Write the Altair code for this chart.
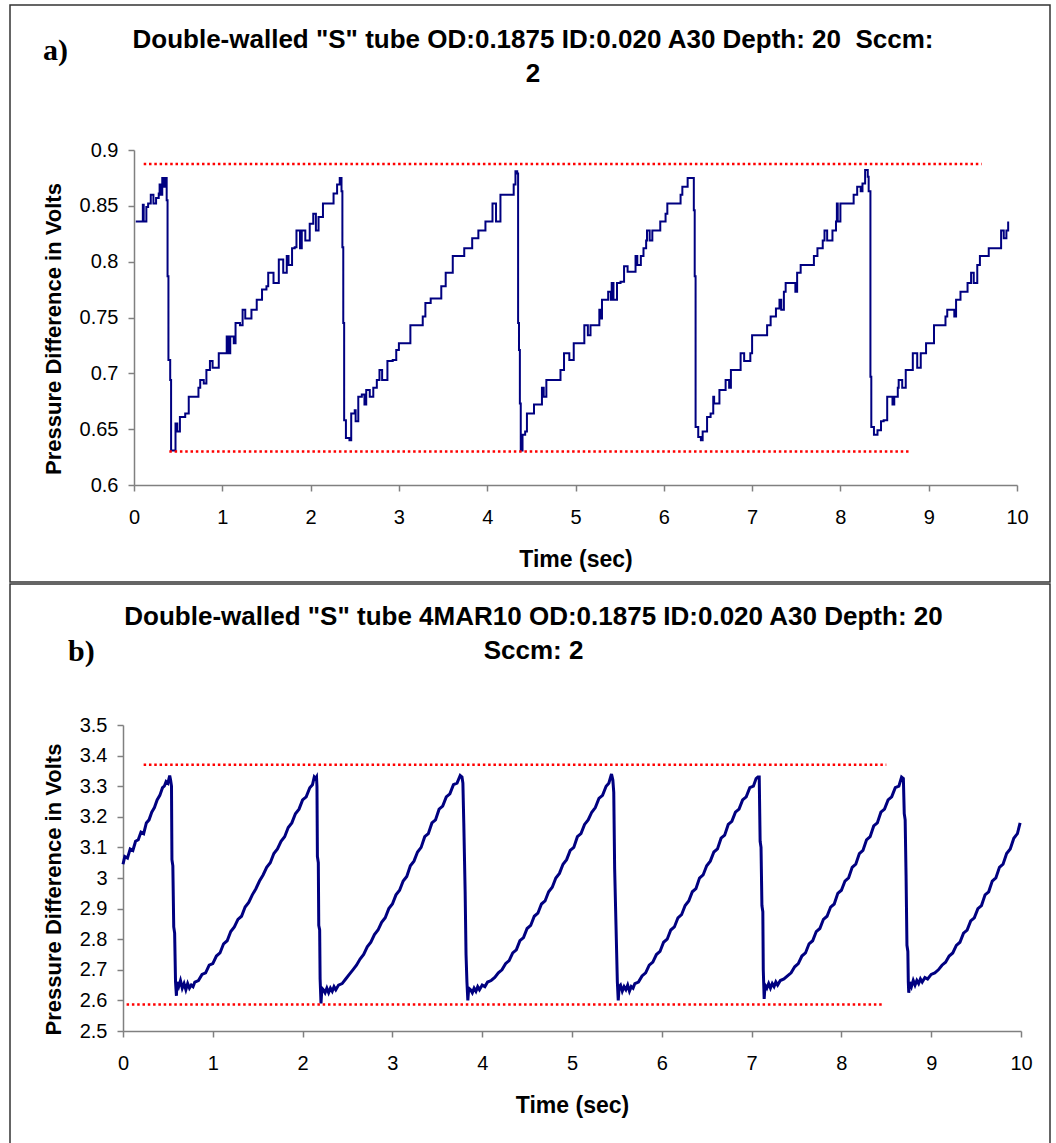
import altair as alt
import pandas as pd

SANS = "Liberation Sans"
SERIF = "Liberation Serif"

title_a = ['Double-walled "S" tube OD:0.1875 ID:0.020 A30 Depth: 20\u00a0 Sccm:', '2']
title_b = ['Double-walled "S" tube 4MAR10 OD:0.1875 ID:0.020 A30 Depth: 20', 'Sccm: 2']
x_title = "Time (sec)"
y_title = "Pressure Difference in Volts"
x_ticks = [0, 1, 2, 3, 4, 5, 6, 7, 8, 9, 10]
y_ticks_a = [0.6, 0.65, 0.7, 0.75, 0.8, 0.85, 0.9]
y_ticks_b = [2.5, 2.6, 2.7, 2.8, 2.9, 3.0, 3.1, 3.2, 3.3, 3.4, 3.5]

# panel a trace: (time s, volts)
trace_a = [
    (0.02, 0.836), (0.07, 0.836), (0.10, 0.851), (0.11, 0.836), (0.14, 0.849), (0.16, 0.852),
    (0.19, 0.860), (0.22, 0.852), (0.25, 0.857), (0.28, 0.861), (0.29, 0.869), (0.30, 0.860),
    (0.32, 0.875), (0.34, 0.867), (0.36, 0.875), (0.37, 0.855), (0.38, 0.787), (0.39, 0.712),
    (0.41, 0.694), (0.42, 0.631), (0.44, 0.631), (0.47, 0.655), (0.49, 0.648), (0.52, 0.661),
    (0.58, 0.664), (0.62, 0.679), (0.69, 0.679), (0.73, 0.687), (0.75, 0.694), (0.79, 0.691),
    (0.82, 0.703), (0.86, 0.711), (0.89, 0.705), (0.96, 0.718), (1.00, 0.718), (1.05, 0.733),
    (1.07, 0.718), (1.09, 0.733), (1.13, 0.727), (1.15, 0.745), (1.20, 0.743), (1.23, 0.757),
    (1.26, 0.749), (1.33, 0.757), (1.39, 0.766), (1.45, 0.775), (1.50, 0.778), (1.52, 0.790),
    (1.58, 0.781), (1.64, 0.802), (1.69, 0.790), (1.73, 0.805), (1.75, 0.797), (1.79, 0.812),
    (1.82, 0.813), (1.84, 0.828), (1.88, 0.812), (1.90, 0.828), (1.94, 0.819), (1.99, 0.834),
    (2.03, 0.843), (2.06, 0.828), (2.09, 0.840), (2.14, 0.852), (2.22, 0.852), (2.26, 0.861),
    (2.30, 0.869), (2.33, 0.875), (2.35, 0.863), (2.36, 0.813), (2.37, 0.745), (2.38, 0.658),
    (2.40, 0.642), (2.44, 0.640), (2.46, 0.664), (2.50, 0.667), (2.51, 0.657), (2.54, 0.679),
    (2.58, 0.681), (2.61, 0.672), (2.63, 0.685), (2.67, 0.679), (2.71, 0.687), (2.75, 0.694),
    (2.78, 0.703), (2.81, 0.694), (2.87, 0.711), (2.93, 0.712), (2.97, 0.721), (3.00, 0.727),
    (3.08, 0.727), (3.13, 0.743), (3.23, 0.743), (3.27, 0.751), (3.30, 0.763), (3.36, 0.767),
    (3.44, 0.767), (3.48, 0.778), (3.53, 0.790), (3.61, 0.805), (3.72, 0.805), (3.74, 0.812),
    (3.83, 0.821), (3.90, 0.828), (3.97, 0.828), (3.98, 0.836), (4.04, 0.836), (4.06, 0.852),
    (4.10, 0.836), (4.15, 0.860), (4.28, 0.860), (4.30, 0.869), (4.32, 0.881), (4.34, 0.879),
    (4.35, 0.745), (4.36, 0.721), (4.37, 0.673), (4.38, 0.631), (4.40, 0.645), (4.43, 0.648),
    (4.45, 0.664), (4.50, 0.664), (4.53, 0.672), (4.61, 0.672), (4.62, 0.687), (4.64, 0.679),
    (4.67, 0.694), (4.76, 0.694), (4.83, 0.703), (4.87, 0.718), (4.93, 0.712), (4.96, 0.712),
    (4.98, 0.727), (5.06, 0.727), (5.10, 0.743), (5.14, 0.734), (5.17, 0.743), (5.22, 0.743),
    (5.27, 0.757), (5.29, 0.749), (5.30, 0.766), (5.34, 0.766), (5.37, 0.773), (5.40, 0.766),
    (5.41, 0.781), (5.43, 0.766), (5.47, 0.781), (5.51, 0.782), (5.55, 0.796), (5.59, 0.791),
    (5.68, 0.805), (5.70, 0.797), (5.74, 0.805), (5.77, 0.812), (5.80, 0.819), (5.81, 0.828),
    (5.84, 0.819), (5.87, 0.828), (5.93, 0.828), (5.96, 0.836), (6.02, 0.843), (6.04, 0.852),
    (6.15, 0.852), (6.19, 0.860), (6.21, 0.867), (6.27, 0.875), (6.31, 0.875), (6.34, 0.846),
    (6.35, 0.787), (6.36, 0.652), (6.39, 0.643), (6.42, 0.640), (6.44, 0.648), (6.48, 0.648),
    (6.49, 0.661), (6.53, 0.664), (6.56, 0.679), (6.57, 0.673), (6.63, 0.685), (6.66, 0.685),
    (6.70, 0.694), (6.74, 0.687), (6.76, 0.703), (6.83, 0.703), (6.87, 0.718), (6.91, 0.711),
    (6.98, 0.718), (7.00, 0.734), (7.14, 0.734), (7.17, 0.743), (7.21, 0.751), (7.27, 0.758),
    (7.31, 0.766), (7.33, 0.757), (7.36, 0.773), (7.38, 0.781), (7.49, 0.773), (7.51, 0.790),
    (7.55, 0.797), (7.68, 0.797), (7.70, 0.805), (7.74, 0.812), (7.80, 0.819), (7.82, 0.828),
    (7.85, 0.819), (7.91, 0.828), (7.95, 0.836), (7.96, 0.852), (7.97, 0.836), (8.00, 0.852),
    (8.12, 0.852), (8.15, 0.860), (8.19, 0.867), (8.23, 0.863), (8.25, 0.870), (8.28, 0.882),
    (8.31, 0.876), (8.32, 0.863), (8.34, 0.697), (8.35, 0.652), (8.38, 0.645), (8.42, 0.649),
    (8.46, 0.657), (8.49, 0.658), (8.53, 0.679), (8.56, 0.679), (8.59, 0.672), (8.61, 0.679),
    (8.65, 0.687), (8.66, 0.694), (8.70, 0.687), (8.74, 0.703), (8.80, 0.703), (8.82, 0.718),
    (8.87, 0.705), (8.91, 0.718), (8.94, 0.718), (8.97, 0.727), (9.04, 0.727), (9.06, 0.743),
    (9.16, 0.743), (9.19, 0.751), (9.21, 0.757), (9.29, 0.751), (9.31, 0.766), (9.33, 0.766),
    (9.36, 0.773), (9.44, 0.781), (9.48, 0.790), (9.51, 0.781), (9.55, 0.797), (9.58, 0.805),
    (9.63, 0.805), (9.68, 0.812), (9.78, 0.812), (9.82, 0.828), (9.85, 0.821), (9.88, 0.828),
    (9.90, 0.836),
]

# panel b trace: (time s, volts)
trace_b = [
    (0.00, 3.045), (0.02, 3.07), (0.05, 3.065), (0.08, 3.095), (0.11, 3.09), (0.14, 3.12),
    (0.17, 3.125), (0.20, 3.15), (0.23, 3.145), (0.26, 3.18), (0.29, 3.19), (0.32, 3.215),
    (0.35, 3.23), (0.38, 3.255), (0.41, 3.27), (0.44, 3.295), (0.46, 3.30), (0.48, 3.315),
    (0.50, 3.31), (0.52, 3.335), (0.53, 3.32),
    (0.54, 3.30), (0.545, 3.06), (0.555, 3.04), (0.565, 2.84), (0.575, 2.82), (0.585, 2.66),
    (0.595, 2.615), (0.60, 2.66),
    (0.62, 2.645), (0.64, 2.665), (0.66, 2.64), (0.68, 2.655), (0.70, 2.635), (0.72, 2.655),
    (0.74, 2.64), (0.76, 2.65), (0.78, 2.645), (0.80, 2.66),
    (0.84, 2.665), (0.88, 2.685), (0.92, 2.69), (0.96, 2.715), (1.00, 2.72), (1.04, 2.745),
    (1.08, 2.755), (1.12, 2.785), (1.16, 2.795), (1.20, 2.825), (1.24, 2.84), (1.28, 2.865),
    (1.32, 2.875), (1.36, 2.905), (1.40, 2.92), (1.44, 2.945), (1.48, 2.965), (1.52, 2.99),
    (1.56, 3.01), (1.60, 3.035), (1.64, 3.05), (1.68, 3.08), (1.72, 3.095), (1.76, 3.12),
    (1.80, 3.135), (1.84, 3.165), (1.88, 3.18), (1.92, 3.21), (1.96, 3.225), (2.00, 3.255),
    (2.04, 3.265), (2.08, 3.295), (2.11, 3.305), (2.13, 3.33), (2.145, 3.325), (2.155, 3.33),
    (2.16, 3.30), (2.165, 3.07), (2.175, 3.05), (2.18, 2.845), (2.19, 2.83), (2.195, 2.67),
    (2.205, 2.59), (2.215, 2.64),
    (2.23, 2.635), (2.25, 2.625), (2.27, 2.64), (2.29, 2.625), (2.31, 2.64), (2.33, 2.63),
    (2.35, 2.645), (2.37, 2.635), (2.40, 2.65),
    (2.44, 2.655), (2.48, 2.67), (2.52, 2.685), (2.56, 2.70), (2.60, 2.715), (2.64, 2.735),
    (2.68, 2.75), (2.72, 2.775), (2.76, 2.79), (2.80, 2.815), (2.84, 2.83), (2.88, 2.855),
    (2.92, 2.87), (2.96, 2.90), (3.00, 2.915), (3.04, 2.945), (3.08, 2.96), (3.12, 2.99),
    (3.16, 3.005), (3.20, 3.04), (3.24, 3.055), (3.28, 3.085), (3.32, 3.10), (3.36, 3.135),
    (3.40, 3.145), (3.44, 3.18), (3.48, 3.19), (3.52, 3.225), (3.56, 3.235), (3.60, 3.265),
    (3.64, 3.275), (3.68, 3.305), (3.72, 3.31), (3.755, 3.335), (3.775, 3.33),
    (3.785, 3.31), (3.795, 3.18), (3.81, 2.955), (3.82, 2.75), (3.83, 2.66), (3.84, 2.60),
    (3.85, 2.64),
    (3.87, 2.635), (3.89, 2.625), (3.91, 2.64), (3.93, 2.63), (3.95, 2.645), (3.97, 2.635),
    (4.00, 2.65), (4.03, 2.645), (4.06, 2.66),
    (4.10, 2.665), (4.14, 2.675), (4.18, 2.69), (4.22, 2.70), (4.26, 2.72), (4.30, 2.73),
    (4.34, 2.755), (4.38, 2.765), (4.42, 2.795), (4.46, 2.805), (4.50, 2.835), (4.54, 2.845),
    (4.58, 2.875), (4.62, 2.885), (4.66, 2.915), (4.70, 2.925), (4.74, 2.955), (4.78, 2.97),
    (4.82, 3.00), (4.86, 3.015), (4.90, 3.045), (4.94, 3.06), (4.98, 3.09), (5.02, 3.10),
    (5.06, 3.135), (5.10, 3.145), (5.14, 3.175), (5.18, 3.19), (5.22, 3.215), (5.26, 3.23),
    (5.30, 3.26), (5.34, 3.27), (5.38, 3.30), (5.41, 3.31), (5.44, 3.34), (5.455, 3.32),
    (5.465, 3.28), (5.475, 3.03), (5.49, 2.845), (5.505, 2.66), (5.515, 2.60), (5.525, 2.645),
    (5.54, 2.65), (5.56, 2.63), (5.58, 2.645), (5.60, 2.635), (5.62, 2.65), (5.64, 2.63),
    (5.66, 2.645), (5.68, 2.64), (5.70, 2.655),
    (5.74, 2.66), (5.78, 2.68), (5.82, 2.69), (5.86, 2.715), (5.90, 2.725), (5.94, 2.75),
    (5.98, 2.76), (6.02, 2.79), (6.06, 2.80), (6.10, 2.83), (6.14, 2.84), (6.18, 2.87),
    (6.22, 2.88), (6.26, 2.91), (6.30, 2.925), (6.34, 2.955), (6.38, 2.965), (6.42, 3.00),
    (6.46, 3.01), (6.50, 3.04), (6.54, 3.055), (6.58, 3.085), (6.62, 3.095), (6.66, 3.13),
    (6.70, 3.14), (6.74, 3.175), (6.78, 3.185), (6.82, 3.215), (6.86, 3.225), (6.90, 3.255),
    (6.94, 3.265), (6.98, 3.295), (7.02, 3.30), (7.05, 3.325), (7.07, 3.33), (7.085, 3.33),
    (7.095, 3.12), (7.105, 3.10), (7.115, 2.91), (7.125, 2.89), (7.13, 2.70), (7.14, 2.605),
    (7.15, 2.65),
    (7.17, 2.64), (7.19, 2.655), (7.21, 2.64), (7.23, 2.655), (7.25, 2.645), (7.27, 2.66),
    (7.29, 2.65), (7.32, 2.665),
    (7.36, 2.67), (7.40, 2.68), (7.44, 2.69), (7.48, 2.71), (7.52, 2.72), (7.56, 2.745),
    (7.60, 2.755), (7.64, 2.785), (7.68, 2.795), (7.72, 2.825), (7.76, 2.835), (7.80, 2.865),
    (7.84, 2.875), (7.88, 2.905), (7.92, 2.915), (7.96, 2.95), (8.00, 2.96), (8.04, 2.99),
    (8.08, 3.00), (8.12, 3.035), (8.16, 3.045), (8.20, 3.08), (8.24, 3.09), (8.28, 3.125),
    (8.32, 3.135), (8.36, 3.17), (8.40, 3.18), (8.44, 3.215), (8.48, 3.225), (8.52, 3.255),
    (8.56, 3.265), (8.60, 3.295), (8.64, 3.30), (8.67, 3.33), (8.69, 3.325),
    (8.70, 3.21), (8.71, 3.19), (8.72, 3.01), (8.73, 2.78), (8.74, 2.76), (8.745, 2.66),
    (8.75, 2.625), (8.76, 2.66),
    (8.78, 2.645), (8.80, 2.665), (8.82, 2.65), (8.84, 2.665), (8.86, 2.655), (8.88, 2.67),
    (8.90, 2.66), (8.93, 2.675), (8.96, 2.67), (9.00, 2.685),
    (9.04, 2.69), (9.08, 2.70), (9.12, 2.715), (9.16, 2.725), (9.20, 2.745), (9.24, 2.755),
    (9.28, 2.78), (9.32, 2.79), (9.36, 2.82), (9.40, 2.83), (9.44, 2.86), (9.48, 2.87),
    (9.52, 2.90), (9.56, 2.91), (9.60, 2.945), (9.64, 2.955), (9.68, 2.99), (9.72, 3.00),
    (9.76, 3.035), (9.80, 3.045), (9.84, 3.08), (9.88, 3.095), (9.92, 3.13), (9.96, 3.145),
    (9.99, 3.18),
]

# dotted red reference levels: (start time, end time, level)
refs_a = [(0.11, 9.60, 0.8875), (0.40, 8.80, 0.630)]
refs_b = [(0.23, 8.50, 3.37), (0.04, 8.47, 2.587)]


def panel(trace, refs, yticks, ydom, W, H, xrange, yoffset, lw, interp, titles,
          title_x, title_ys, letter, letter_x, letter_y, frame, xtitle_x):
    df = pd.DataFrame(trace, columns=["t", "v"])
    df["i"] = range(len(df))
    rdf = pd.DataFrame(refs, columns=["t1", "t2", "v"])
    one = pd.DataFrame({"k": [0]})

    xs = alt.Scale(domain=[0, 10], range=xrange, nice=False, zero=False)
    ys = alt.Scale(domain=ydom, nice=False, zero=False)
    axis_common = dict(
        grid=False, domainColor="#808080", domainWidth=1.5, tickColor="#808080",
        tickWidth=1.5, tickSize=6, labelFont=SANS, labelFontSize=20,
        labelColor="black", labelFlush=False, labelOverlap=False,
        titleFont=SANS, titleFontWeight="bold", titleColor="black",
    )
    xaxis = alt.Axis(values=x_ticks, format="d", title=x_title, labelPadding=16,
                     titleFontSize=23, titlePadding=21, titleX=xtitle_x,
                     **axis_common)
    yaxis = alt.Axis(values=yticks, format="~g", title=y_title, labelPadding=10,
                     titleFontSize=22, titlePadding=14, titleY=H / 2 + 11,
                     offset=yoffset, **axis_common)

    line = alt.Chart(df).mark_line(
        color="#000080", strokeWidth=lw, interpolate=interp
    ).encode(
        x=alt.X("t:Q", scale=xs, axis=xaxis),
        y=alt.Y("v:Q", scale=ys, axis=yaxis),
        order="i:Q",
    )
    rules = alt.Chart(rdf).mark_rule(
        color="#FF0000", strokeWidth=2.5, strokeDash=[2.5, 2.8]
    ).encode(
        x=alt.X("t1:Q", scale=xs, axis=xaxis),
        x2="t2:Q",
        y=alt.Y("v:Q", scale=ys, axis=yaxis),
    )
    frame_m = alt.Chart(one).mark_rect(
        fillOpacity=0, stroke="#333333", strokeWidth=1.5
    ).encode(
        x=alt.value(frame[0]), x2=alt.value(frame[1]),
        y=alt.value(frame[2]), y2=alt.value(frame[3]),
    )
    texts = []
    for txt, ty in zip(titles, title_ys):
        texts.append(
            alt.Chart(one).mark_text(
                text=txt, font=SANS, fontSize=26, fontWeight="bold",
                align="center", baseline="alphabetic", color="black",
            ).encode(x=alt.value(title_x), y=alt.value(ty))
        )
    texts.append(
        alt.Chart(one).mark_text(
            text=letter, font=SERIF, fontSize=30, fontWeight="bold",
            align="left", baseline="alphabetic", color="black",
        ).encode(x=alt.value(letter_x), y=alt.value(letter_y))
    )
    return alt.layer(line, rules, frame_m, *texts).properties(width=W, height=H)


pa = panel(trace_a, refs_a, y_ticks_a, [0.6, 0.9], 883, 335, [0, 883], 0, 2.0,
           "step-after", title_a, 399, [-102, -68], "a)", -91, -90,
           [-124, 916, -145, 432], 441.5)
pb = panel(trace_b, refs_b, y_ticks_b, [2.5, 3.5], 887, 306, [-11, 887], 11, 3.0,
           "linear", title_b, 399.5, [-100, -66], "b)", -66, -64,
           [-124, 916, -141, 440], 438)

chart = alt.vconcat(pa, pb, spacing=0).properties(
    padding={"left": 9, "top": 4, "right": 0, "bottom": 0},
    background="white",
).configure_view(strokeWidth=0)

chart.save("out.html", embed_options={"renderer": "svg", "actions": False})
